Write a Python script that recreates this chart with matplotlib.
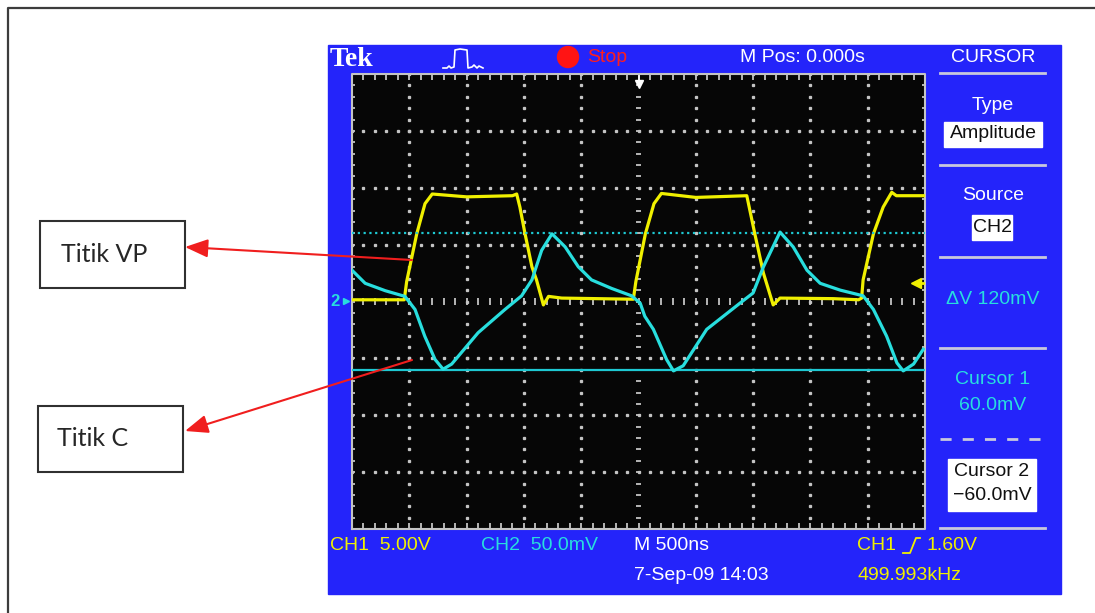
import numpy as np
import matplotlib
matplotlib.use("Agg")
import matplotlib.pyplot as plt
from matplotlib.patches import Rectangle, Circle, FancyArrowPatch

W, H = 1095, 613

# scope settings
time_per_div_ns = 500
ch1_volt_per_div = 5.0
ch2_mv_per_div = 50.0
cursor1_mv = 60.0
cursor2_mv = -60.0
trig_level_v = 1.60

# CH1 (yellow), time in ns, volts
ch1_t = [0, 456, 477, 565, 637, 700, 1000, 1400, 1437, 1465, 1510, 1570, 1610,
         1670, 1715, 1830, 2455, 2477, 2560, 2635, 2700, 3000, 3445, 3515, 3590,
         3675, 3735, 4200, 4420, 4447, 4460, 4550, 4635, 4710, 4750, 4985]
ch1_v = [0.15, 0.15, 1.75, 5.95, 8.6, 9.45, 9.2, 9.3, 9.45, 8.3, 5.95, 3.05, 1.9,
         -0.3, 0.45, 0.3, 0.2, 1.75, 5.95, 8.6, 9.5, 9.15, 9.3, 5.95, 2.5,
         -0.3, 0.3, 0.25, 0.15, 0.3, 1.9, 5.95, 8.3, 9.6, 9.3, 9.3]

# CH2 (cyan), time in ns, millivolts
ch2_t = [0, 115, 290, 462, 550, 635, 725, 795, 870, 1100, 1335, 1480, 1570, 1655,
         1745, 1860, 1975, 2090, 2265, 2440, 2515, 2555, 2630, 2745, 2805, 2890,
         3095, 3385, 3500, 3590, 3735, 3850, 3970, 4085, 4260, 4460, 4550, 4665,
         4755, 4810, 4900, 4985]
ch2_mv = [27.5, 16, 9.5, 4.5, -7, -30.5, -51, -59.5, -55, -27.5, -7, 5, 19, 45,
          59.5, 48, 30.5, 19, 11.5, 5, -1.5, -13, -24.5, -51, -61, -56.5,
          -24.5, -1.5, 7.5, 30.5, 61, 48, 27.5, 16, 10, 5, -7, -30.5,
          -54, -61, -55, -42]

BLUE = '#2424fa'
YEL = '#f0f000'
CYA = '#28dede'
GRID = '#c4c4c4'
SCOPE_FONT = ['Liberation Sans', 'DejaVu Sans']

fig = plt.figure(figsize=(W / 100, H / 100), dpi=100)
bg = fig.add_axes([0, 0, 1, 1])
bg.set_xlim(0, W)
bg.set_ylim(H, 0)
bg.axis('off')

# page frame
bg.plot([8, 8, W], [H, 8, 8], color='#3c3c3c', lw=1.6)

# blue instrument panel
bg.add_patch(Rectangle((328, 45), 733, 549, color=BLUE, zorder=1))


def stxt(x, y, s, color='white', size=14, ha='left', **kw):
    bg.text(x, y, s, color=color, fontsize=size, ha=ha, va='center',
            family=SCOPE_FONT, zorder=5, **kw)


# top bar
bg.text(330, 60, 'Tek', color='white', fontsize=20, fontweight='bold',
        family=['Liberation Serif', 'DejaVu Serif'], va='center', zorder=5)
bg.plot([443, 447, 449, 451, 454, 455, 460, 467, 468, 472, 474, 477, 479, 483],
        [68, 68, 66, 68, 67, 50, 49, 50, 68, 67, 65, 68, 66, 68],
        color='white', lw=1.2, zorder=5)
bg.add_patch(Circle((568, 57), 10.5, color='#ff1414', zorder=5))
stxt(587, 57, 'Stop', color='#ff1e1e')
stxt(740, 57, 'M Pos: 0.000s')
stxt(993, 57, 'CURSOR', ha='center')

# right side menu
for yy in [73, 165, 257, 348, 528]:
    bg.plot([940, 1045], [yy, yy], color='#c8c8dc', lw=2, zorder=4)
bg.plot([940, 1045], [439, 439], color='#c8c8dc', lw=2, ls=(0, (4, 4)), zorder=4)
stxt(993, 105, 'Type', ha='center')
bg.add_patch(Rectangle((944, 122), 98, 25, color='white', zorder=4))
stxt(993, 134, 'Amplitude', color='#101010', ha='center')
stxt(993, 196, 'Source', ha='center')
bg.add_patch(Rectangle((972, 215), 40, 25, color='white', zorder=4))
stxt(992, 227, 'CH2', color='#101010', ha='center')
stxt(993, 300, '\u0394V 120mV', color=CYA, ha='center')
stxt(993, 380, 'Cursor 1', color=CYA, ha='center')
stxt(993, 406, '60.0mV', color=CYA, ha='center')
bg.add_patch(Rectangle((948, 459), 88, 52, color='white', zorder=4))
stxt(992, 471, 'Cursor 2', color='#101010', ha='center')
stxt(992, 496, '\u221260.0mV', color='#101010', ha='center')

# bottom readout
stxt(330, 545, 'CH1  5.00V', color=YEL)
stxt(481, 545, 'CH2  50.0mV', color=CYA)
stxt(634, 545, 'M 500ns', color='white')
stxt(857, 545, 'CH1', color=YEL)
bg.plot([903, 910, 916, 920], [553, 553, 538, 538], color=YEL, lw=1.3, zorder=5)
stxt(926, 545, '1.60V', color=YEL)
stxt(634, 575, '7-Sep-09 14:03', color='white')
stxt(857, 575, '499.993kHz', color=YEL)

# channel ground markers
stxt(330, 301, '2', color=CYA, size=12, fontweight='bold')
bg.plot([346], [301], marker='>', color=CYA, ms=5, zorder=5)

# annotation boxes
bg.add_patch(Rectangle((40, 221), 145, 67, fill=False, ec='#303030', lw=1.5))
bg.text(61, 254, 'Titik VP', fontsize=18, color='#262626', va='center',
        family=['Lato', 'DejaVu Sans'])
bg.add_patch(Rectangle((38, 406), 145, 66, fill=False, ec='#303030', lw=1.5))
bg.text(57, 439, 'Titik C', fontsize=18, color='#262626', va='center',
        family=['Lato', 'DejaVu Sans'])

# graticule: CH1 axis in volts, CH2 twin axis in mV
x0, y0, x1, y1 = 352, 74, 925, 529
ax = fig.add_axes([x0 / W, 1 - y1 / H, (x1 - x0) / W, (y1 - y0) / H])
ax.set_facecolor('#060606')
tmax = 10 * time_per_div_ns
vmax = 4 * ch1_volt_per_div
ax.set_xlim(0, tmax)
ax.set_ylim(-vmax, vmax)
ax.set_xticks([])
ax.set_yticks([])
for s in ax.spines.values():
    s.set_visible(False)

dt = time_per_div_ns / 5
dv = ch1_volt_per_div / 5
sub_t = np.arange(0, tmax + 1, dt)
sub_v = np.arange(-vmax, vmax + 0.01, dv)
for k in range(1, 10):
    if k == 5:
        continue
    ax.plot(np.full(sub_v.size, k * time_per_div_ns), sub_v, ls='none',
            marker='s', ms=1.4, color=GRID)
for k in range(-3, 4):
    if k == 0:
        continue
    ax.plot(sub_t, np.full(sub_t.size, k * ch1_volt_per_div), ls='none',
            marker='s', ms=1.4, color=GRID)
# centre cross ticks
ax.vlines(sub_t, -0.3, 0.3, color=GRID, lw=1.3)
ax.hlines(sub_v, tmax / 2 - 18, tmax / 2 + 18, color=GRID, lw=1.3)
# frame rulers
ax.vlines(sub_t, vmax - 0.55, vmax, color=GRID, lw=1.3, clip_on=False)
ax.vlines(sub_t, -vmax, -vmax + 0.55, color=GRID, lw=1.3, clip_on=False)
ax.hlines(sub_v, 0, 28, color=GRID, lw=1.3, clip_on=False)
ax.hlines(sub_v, tmax - 28, tmax, color=GRID, lw=1.3, clip_on=False)
ax.plot([0, 0, tmax, tmax, 0], [-vmax, vmax, vmax, -vmax, -vmax], color=GRID,
        lw=1.5, clip_on=False)

# trigger position and level markers
ax.plot([tmax / 2], [vmax - 0.9], marker='v', color='white', ms=6)
ax.plot([tmax / 2, tmax / 2], [vmax - 0.9, vmax - 0.2], color='white', lw=1.2)
ax.plot([tmax - 75], [trig_level_v], marker='<', color=YEL, ms=7)
ax.plot([tmax - 75, tmax], [trig_level_v, trig_level_v], color=YEL, lw=2)

ax.plot(ch1_t, ch1_v, color=YEL, lw=2.3, zorder=3)

ax2 = ax.twinx()
ax2.set_ylim(-4 * ch2_mv_per_div, 4 * ch2_mv_per_div)
ax2.set_xlim(0, tmax)
ax2.patch.set_visible(False)
ax2.set_yticks([])
for s in ax2.spines.values():
    s.set_visible(False)
ax2.axhline(cursor1_mv, color='#1ec8d2', lw=1.6, ls=(0, (1, 1.6)))
ax2.axhline(cursor2_mv, color='#1ec8d2', lw=1.6)
ax2.plot(ch2_t, ch2_mv, color=CYA, lw=2.3, zorder=4)

# red pointer arrows on top of everything
ov = fig.add_axes([0, 0, 1, 1])
ov.set_xlim(0, W)
ov.set_ylim(H, 0)
ov.axis('off')
ov.patch.set_visible(False)
for start, end in [((412, 260), (185, 247)), ((412, 360), (185, 431))]:
    ov.add_patch(FancyArrowPatch(start, end, arrowstyle='-|>,head_length=1.0,head_width=0.4',
                                 mutation_scale=14, color='#f01e1e', lw=1.5,
                                 shrinkA=0, shrinkB=0))

fig.savefig('out.png', dpi=100)
